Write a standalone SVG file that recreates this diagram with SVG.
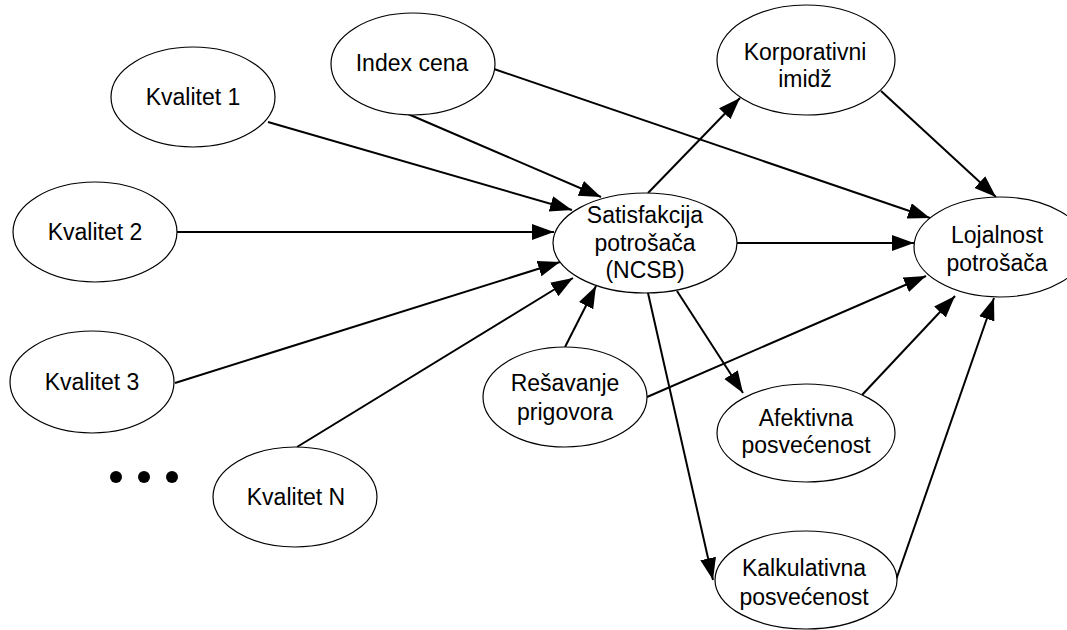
<svg xmlns="http://www.w3.org/2000/svg" width="1067" height="630" viewBox="0 0 1067 630">
<style>
.n ellipse{fill:#fff;stroke:#000;stroke-width:1.2}
.n text{font-family:"Liberation Sans",Arial,sans-serif;font-size:23px;text-anchor:middle;fill:#000}
.e line{stroke:#000;stroke-width:2;marker-end:url(#ah)}
</style>
<defs>
<marker id="ah" markerUnits="userSpaceOnUse" markerWidth="24" markerHeight="18" refX="22" refY="8" orient="auto"><path d="M0,0 L22,8 L0,16 z" fill="#000"/></marker>
</defs>
<rect width="1067" height="630" fill="#fff"/>
<g id="connectors" class="e">
<line x1="268" y1="122" x2="572" y2="210"/>
<line x1="177" y1="232" x2="554" y2="232"/>
<line x1="175" y1="383" x2="560" y2="262"/>
<line x1="297" y1="447" x2="573" y2="278"/>
<line x1="565" y1="347" x2="596" y2="286"/>
<line x1="408" y1="114" x2="601" y2="197"/>
<line x1="494" y1="69" x2="930" y2="218"/>
<line x1="648" y1="193" x2="740" y2="98"/>
<line x1="881" y1="91" x2="996" y2="197"/>
<line x1="737" y1="243" x2="914" y2="243"/>
<line x1="647" y1="397" x2="926" y2="276"/>
<line x1="677" y1="291" x2="743" y2="393"/>
<line x1="862" y1="395" x2="955" y2="296"/>
<line x1="648" y1="293" x2="713" y2="580"/>
<line x1="896" y1="580" x2="994" y2="298"/>
</g>
<g id="kvalitet1" class="n"><ellipse cx="193" cy="97" rx="82" ry="50"/><text x="193" y="105">Kvalitet 1</text></g>
<g id="kvalitet2" class="n"><ellipse cx="95" cy="232" rx="82" ry="50"/><text x="95" y="240">Kvalitet 2</text></g>
<g id="kvalitet3" class="n"><ellipse cx="92" cy="382" rx="82" ry="51"/><text x="92" y="390">Kvalitet 3</text></g>
<g id="kvalitetN" class="n"><ellipse cx="295" cy="497" rx="82" ry="50"/><text x="296" y="505">Kvalitet N</text></g>
<g id="dots"><circle cx="116" cy="477" r="6"/><circle cx="144" cy="477" r="6"/><circle cx="172" cy="477" r="6"/></g>
<g id="indexcena" class="n"><ellipse cx="413" cy="64" rx="82" ry="51"/><text x="412" y="71">Index cena</text></g>
<g id="korporativni" class="n"><ellipse cx="806" cy="60" rx="89" ry="55"/><text x="805" y="60">Korporativni</text><text x="805" y="87">imidž</text></g>
<g id="satisfakcija" class="n"><ellipse cx="645" cy="243" rx="92" ry="50"/><text x="645" y="223">Satisfakcija</text><text x="645" y="251">potrošača</text><text x="645" y="278">(NCSB)</text></g>
<g id="lojalnost" class="n"><ellipse cx="1000" cy="247" rx="86" ry="50"/><text x="997" y="243">Lojalnost</text><text x="997" y="271">potrošača</text></g>
<g id="resavanje" class="n"><ellipse cx="565" cy="397" rx="82" ry="50"/><text x="565" y="391">Rešavanje</text><text x="565" y="420">prigovora</text></g>
<g id="afektivna" class="n"><ellipse cx="806" cy="433" rx="89" ry="49"/><text x="806" y="426">Afektivna</text><text x="806" y="453">posvećenost</text></g>
<g id="kalkulativna" class="n"><ellipse cx="806" cy="580" rx="91" ry="49"/><text x="804" y="576">Kalkulativna</text><text x="804" y="605">posvećenost</text></g>
</svg>
